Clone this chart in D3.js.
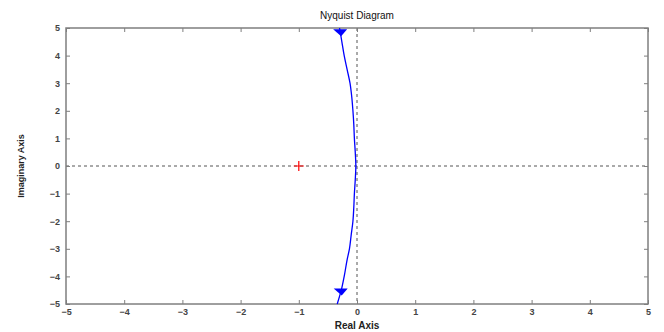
<!DOCTYPE html>
<html><head><meta charset="utf-8">
<script src="https://cdn.jsdelivr.net/npm/d3@7"></script>
<style>body{margin:0;background:#fff}svg{display:block}text{font-family:"Liberation Sans",Arial,sans-serif}</style>
</head><body><svg id="c" width="664" height="332"></svg>
<script>
const xTicks=[-5,-4,-3,-2,-1,0,1,2,3,4,5];
const yTicks=[-5,-4,-3,-2,-1,0,1,2,3,4,5];
const curveImag=[-5,-4.5,-4,-3.4,-3,-2.5,-2,-1.5,-1,-0.5,0,0.5,1,1.5,2,2.5,3,3.5,4,4.5,5];
const curveReal=[-0.34,-0.27,-0.22,-0.17,-0.13,-0.1,-0.07,-0.055,-0.045,-0.03,-0.02,-0.03,-0.045,-0.055,-0.07,-0.09,-0.12,-0.17,-0.22,-0.26,-0.3];
const arrows=[{re:-0.29,im:4.85},{re:-0.28,im:-4.55}];
const critical=[{re:-1,im:0}];

const svg=d3.select("#c");
const L=66,R=648,T=28,B=304;
const x=d3.scaleLinear().domain([-5,5]).range([L,R]);
const y=d3.scaleLinear().domain([-5,5]).range([B,T]);
const grey="#7f7f7f";

// zero dashed lines
svg.append("line").attr("x1",x(0)).attr("x2",x(0)).attr("y1",T).attr("y2",B)
  .attr("stroke","#555").attr("stroke-width",1).attr("stroke-dasharray","3,3");
svg.append("line").attr("x1",L).attr("x2",R).attr("y1",y(0)).attr("y2",y(0))
  .attr("stroke","#555").attr("stroke-width",1).attr("stroke-dasharray","3,3");

// axes
const fmt=d=>d<0?"\u2212"+(-d):String(d);
const ax=(g)=>{g.select(".domain").remove();g.selectAll("line").attr("stroke",grey);g.selectAll("text").attr("fill","#444").attr("font-size","9px").attr("font-weight","bold");};
svg.append("g").attr("transform",`translate(0,${B})`).call(d3.axisBottom(x).tickValues(xTicks).tickSize(-4).tickPadding(5).tickFormat(fmt)).call(ax);
svg.append("g").attr("transform",`translate(0,${T})`).call(d3.axisTop(x).tickValues(xTicks).tickSize(-4).tickFormat("")).call(ax);
svg.append("g").attr("transform",`translate(${L},0)`).call(d3.axisLeft(y).tickValues(yTicks).tickSize(-4).tickPadding(6).tickFormat(fmt)).call(ax);
svg.append("g").attr("transform",`translate(${R},0)`).call(d3.axisRight(y).tickValues(yTicks).tickSize(-4).tickFormat("")).call(ax);
svg.append("rect").attr("x",L).attr("y",T).attr("width",R-L).attr("height",B-T)
  .attr("fill","none").attr("stroke",grey).attr("stroke-width",1.5);

// curve
const pts=curveImag.map((im,i)=>({re:curveReal[i],im}));
svg.append("path").datum(pts).attr("fill","none").attr("stroke","#0000ff").attr("stroke-width",1.3)
  .attr("d",d3.line().x(d=>x(d.re)).y(d=>y(d.im)).curve(d3.curveMonotoneY));

// arrows (pointing down)
svg.selectAll(".arr").data(arrows).enter().append("path")
  .attr("fill","#0000ff")
  .attr("d",d=>{const cx=x(d.re),cy=y(d.im);return `M${cx-7},${cy-3}L${cx+7},${cy-3}L${cx+1},${cy+4}Z`;});

// critical point
critical.forEach(p=>{
  const cx=x(p.re),cy=y(p.im);
  svg.append("path").attr("d",`M${cx-5},${cy}H${cx+5}M${cx},${cy-5}V${cy+5}`).attr("stroke","#ff0000").attr("stroke-width",1.2);
});

// titles
svg.append("text").attr("x",(L+R)/2).attr("y",19).attr("text-anchor","middle").attr("font-size","10px").attr("fill","#111").text("Nyquist Diagram");
svg.append("text").attr("x",(L+R)/2).attr("y",329).attr("text-anchor","middle").attr("font-size","10px").attr("font-weight","bold").attr("fill","#222").text("Real Axis");
svg.append("text").attr("transform",`translate(24,${(T+B)/2}) rotate(-90)`).attr("text-anchor","middle").attr("font-size","9px").attr("font-weight","bold").attr("fill","#222").text("Imaginary Axis");
</script></body></html>
